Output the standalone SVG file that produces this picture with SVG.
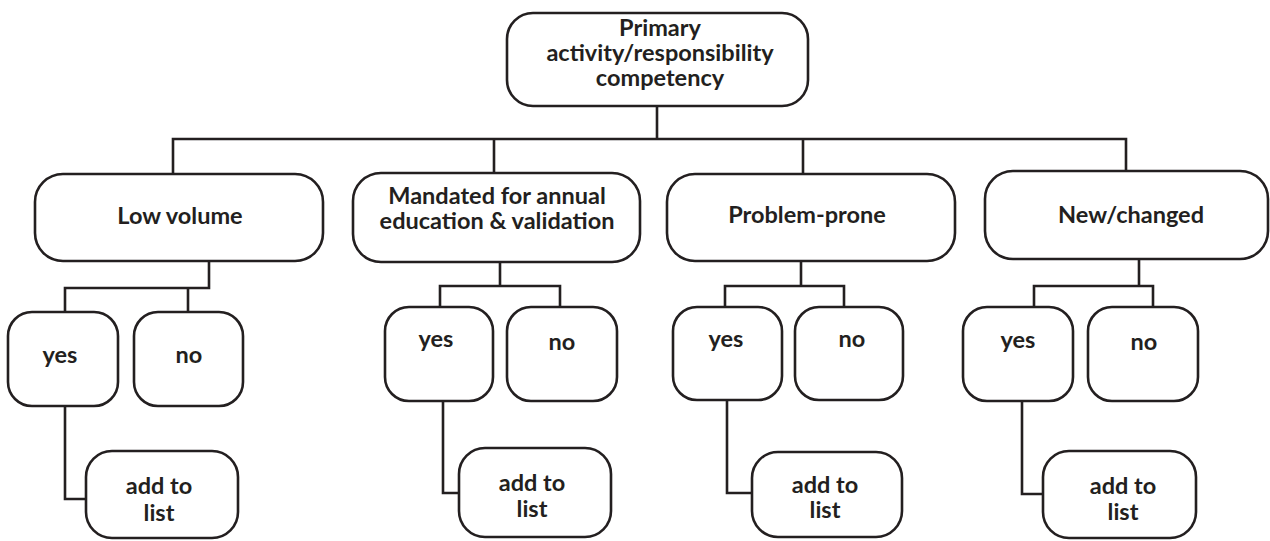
<svg xmlns="http://www.w3.org/2000/svg" width="1270" height="541" viewBox="0 0 1270 541">
<style>
.box{fill:#fff;stroke:#231f20;stroke-width:2.6}
.ln{fill:none;stroke:#231f20;stroke-width:2.6;stroke-linecap:square;stroke-linejoin:miter}
text{font-family:Lato,"Open Sans","Liberation Sans",sans-serif;font-weight:bold;font-size:23.5px;fill:#231f20;text-anchor:middle}
</style>
<rect width="1270" height="541" fill="#fff"/>
<g id="connectors">
<path class="ln" d="M657,106 V139 M173,139 H1126 M173,139 V174 M494,139 V173 M803,139 V174 M1126,139 V171"/>
<path class="ln" d="M209,261 V288 M65,288 H209 M65,288 V312 M188,288 V312"/>
<path class="ln" d="M500,262 V286 M440,286 H560 M440,286 V307 M560,286 V307"/>
<path class="ln" d="M801,261 V286 M725,286 H844 M725,286 V307 M844,286 V307"/>
<path class="ln" d="M1139,259 V286 M1034,286 H1153 M1034,286 V307 M1153,286 V307"/>
<path class="ln" d="M65,406 V499 H86"/>
<path class="ln" d="M443,401 V493 H459"/>
<path class="ln" d="M727,400 V493 H752"/>
<path class="ln" d="M1022,401 V494 H1043"/>
</g>
<g id="root">
<rect class="box" x="507" y="13" width="301" height="93" rx="26"/>
<text x="660" y="36">Primary</text>
<text x="660" y="61">activity/responsibility</text>
<text x="660" y="86">competency</text>
</g>
<g id="low-volume">
<rect class="box" x="35" y="174" width="288" height="87" rx="28"/>
<text x="180" y="224">Low volume</text>
</g>
<g id="mandated">
<rect class="box" x="353" y="173" width="287" height="89" rx="28"/>
<text x="497" y="204">Mandated for annual</text>
<text x="497" y="229">education &amp; validation</text>
</g>
<g id="problem-prone">
<rect class="box" x="667" y="174" width="288" height="87" rx="28"/>
<text x="807" y="223">Problem-prone</text>
</g>
<g id="new-changed">
<rect class="box" x="985" y="171" width="283" height="88" rx="28"/>
<text x="1131" y="223">New/changed</text>
</g>
<g id="low-yes"><rect class="box" x="8" y="312" width="110" height="94" rx="24"/><text x="60" y="363">yes</text></g>
<g id="low-no"><rect class="box" x="134" y="312" width="109" height="94" rx="24"/><text x="189" y="363">no</text></g>
<g id="mand-yes"><rect class="box" x="385" y="307" width="108" height="94" rx="24"/><text x="436" y="347">yes</text></g>
<g id="mand-no"><rect class="box" x="507" y="307" width="110" height="94" rx="24"/><text x="562" y="350">no</text></g>
<g id="prob-yes"><rect class="box" x="673" y="307" width="109" height="93" rx="24"/><text x="726" y="347">yes</text></g>
<g id="prob-no"><rect class="box" x="795" y="307" width="108" height="93" rx="24"/><text x="852" y="347">no</text></g>
<g id="new-yes"><rect class="box" x="963" y="307" width="110" height="94" rx="24"/><text x="1018" y="348">yes</text></g>
<g id="new-no"><rect class="box" x="1088" y="307" width="110" height="94" rx="24"/><text x="1144" y="350">no</text></g>
<g id="low-add"><rect class="box" x="86" y="451" width="152" height="87" rx="26"/><text x="159" y="494">add to</text><text x="159" y="521">list</text></g>
<g id="mand-add"><rect class="box" x="459" y="448" width="152" height="89" rx="26"/><text x="532" y="491">add to</text><text x="532" y="517">list</text></g>
<g id="prob-add"><rect class="box" x="752" y="452" width="150" height="85" rx="26"/><text x="825" y="493">add to</text><text x="825" y="518">list</text></g>
<g id="new-add"><rect class="box" x="1043" y="451" width="153" height="87" rx="26"/><text x="1123" y="494">add to</text><text x="1123" y="520">list</text></g>
</svg>
